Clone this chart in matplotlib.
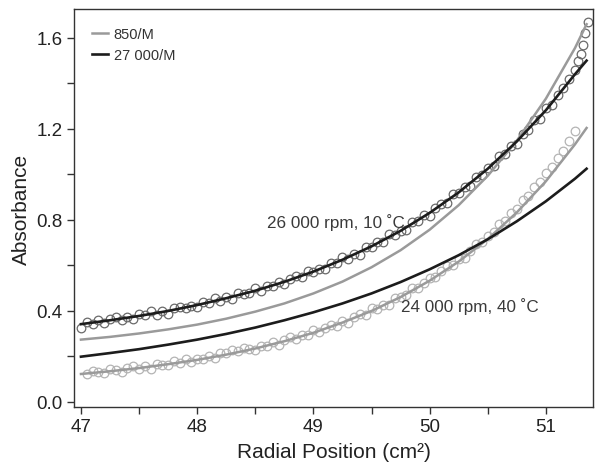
import matplotlib
matplotlib.use("Agg")
import matplotlib.pyplot as plt
from matplotlib.ticker import MultipleLocator

plt.rcParams['font.family'] = ['Liberation Sans', 'DejaVu Sans']

# radial position grid for the fitted curves
fit_x = [47.0, 47.25, 47.5, 47.75, 48.0, 48.25, 48.5, 48.75, 49.0, 49.25,
         49.5, 49.75, 50.0, 50.25, 50.5, 50.75, 51.0, 51.25, 51.35]

# 26 000 rpm, 10 C fits
hi_fit_850 = [0.274, 0.286, 0.301, 0.319, 0.340, 0.366, 0.397, 0.433, 0.477, 0.529,
              0.592, 0.667, 0.757, 0.865, 0.994, 1.148, 1.333, 1.555, 1.660]
hi_fit_27k = [0.342, 0.359, 0.378, 0.400, 0.426, 0.456, 0.489, 0.528, 0.573, 0.625,
              0.684, 0.752, 0.831, 0.921, 1.025, 1.145, 1.282, 1.440, 1.500]

# 24 000 rpm, 40 C fits
lo_fit_850 = [0.123, 0.135, 0.149, 0.166, 0.185, 0.208, 0.235, 0.267, 0.304, 0.349,
              0.400, 0.461, 0.533, 0.617, 0.716, 0.833, 0.970, 1.132, 1.204]
lo_fit_27k = [0.199, 0.215, 0.232, 0.252, 0.274, 0.299, 0.327, 0.359, 0.394, 0.433,
              0.477, 0.527, 0.583, 0.645, 0.715, 0.794, 0.882, 0.981, 1.025]

# measured absorbance, 26 000 rpm, 10 C
hi_x = [47.00, 47.05, 47.10, 47.15, 47.20, 47.25, 47.30, 47.35, 47.40, 47.45,
        47.50, 47.55, 47.60, 47.65, 47.70, 47.75, 47.80, 47.85, 47.90, 47.95,
        48.00, 48.05, 48.10, 48.15, 48.20, 48.25, 48.30, 48.35, 48.40, 48.45,
        48.50, 48.55, 48.60, 48.65, 48.70, 48.75, 48.80, 48.85, 48.90, 48.95,
        49.00, 49.05, 49.10, 49.15, 49.20, 49.25, 49.30, 49.35, 49.40, 49.45,
        49.50, 49.55, 49.60, 49.65, 49.70, 49.75, 49.80, 49.85, 49.90, 49.95,
        50.00, 50.05, 50.10, 50.15, 50.20, 50.25, 50.30, 50.35, 50.40, 50.45,
        50.50, 50.55, 50.60, 50.65, 50.70, 50.75, 50.80, 50.85, 50.90, 50.95,
        51.00, 51.05, 51.10, 51.15, 51.20, 51.25, 51.28, 51.30, 51.32, 51.34,
        51.36]
hi_y = [0.324, 0.351, 0.344, 0.362, 0.347, 0.363, 0.374, 0.360, 0.372, 0.364,
        0.386, 0.380, 0.398, 0.384, 0.399, 0.388, 0.411, 0.419, 0.411, 0.422,
        0.417, 0.439, 0.434, 0.455, 0.443, 0.460, 0.451, 0.477, 0.475, 0.477,
        0.499, 0.489, 0.509, 0.510, 0.529, 0.518, 0.540, 0.553, 0.548, 0.575,
        0.569, 0.585, 0.584, 0.609, 0.611, 0.635, 0.629, 0.651, 0.648, 0.680,
        0.682, 0.702, 0.702, 0.736, 0.733, 0.753, 0.757, 0.789, 0.794, 0.823,
        0.819, 0.851, 0.872, 0.876, 0.912, 0.918, 0.946, 0.950, 0.990, 0.997,
        1.029, 1.039, 1.082, 1.090, 1.126, 1.135, 1.177, 1.193, 1.237, 1.245,
        1.291, 1.307, 1.349, 1.378, 1.420, 1.460, 1.500, 1.530, 1.570, 1.620,
        1.670]

# measured absorbance, 24 000 rpm, 40 C
lo_x = [47.05, 47.10, 47.15, 47.20, 47.25, 47.30, 47.35, 47.40, 47.45,
        47.50, 47.55, 47.60, 47.65, 47.70, 47.75, 47.80, 47.85, 47.90, 47.95,
        48.00, 48.05, 48.10, 48.15, 48.20, 48.25, 48.30, 48.35, 48.40, 48.45,
        48.50, 48.55, 48.60, 48.65, 48.70, 48.75, 48.80, 48.85, 48.90, 48.95,
        49.00, 49.05, 49.10, 49.15, 49.20, 49.25, 49.30, 49.35, 49.40, 49.45,
        49.50, 49.55, 49.60, 49.65, 49.70, 49.75, 49.80, 49.85, 49.90, 49.95,
        50.00, 50.05, 50.10, 50.15, 50.20, 50.25, 50.30, 50.35, 50.40, 50.45,
        50.50, 50.55, 50.60, 50.65, 50.70, 50.75, 50.80, 50.85, 50.90, 50.95,
        51.00, 51.05, 51.10, 51.15, 51.20, 51.25]
lo_y = [0.121, 0.136, 0.133, 0.126, 0.145, 0.140, 0.132, 0.149, 0.157,
        0.146, 0.156, 0.146, 0.166, 0.163, 0.161, 0.178, 0.171, 0.189, 0.174,
        0.190, 0.190, 0.204, 0.195, 0.217, 0.216, 0.229, 0.225, 0.236, 0.231,
        0.229, 0.246, 0.244, 0.262, 0.252, 0.271, 0.284, 0.276, 0.296, 0.295,
        0.315, 0.306, 0.324, 0.339, 0.335, 0.355, 0.348, 0.372, 0.387, 0.383,
        0.412, 0.409, 0.428, 0.427, 0.455, 0.463, 0.468, 0.499, 0.499, 0.524,
        0.546, 0.547, 0.574, 0.597, 0.603, 0.629, 0.633, 0.665, 0.693, 0.701,
        0.730, 0.746, 0.781, 0.796, 0.832, 0.849, 0.887, 0.905, 0.943, 0.967,
        1.006, 1.031, 1.074, 1.104, 1.146, 1.190]

grey = '#9a9a9a'
black = '#1c1c1c'

fig = plt.figure(figsize=(6.02, 4.77), dpi=100)
ax = fig.add_axes([0.1229, 0.1447, 0.8621, 0.8344])

ax.plot(hi_x, hi_y, 'o', mfc='none', mec='#6a6a6a', ms=6.2, mew=0.9)
ax.plot(lo_x, lo_y, 'o', mfc='none', mec='#b4b4b4', ms=6.2, mew=0.9)

l850, = ax.plot(fit_x, hi_fit_850, color=grey, lw=1.8, label='850/M')
l27k, = ax.plot(fit_x, hi_fit_27k, color=black, lw=1.9, label='27 000/M')
ax.plot(fit_x, lo_fit_850, color=grey, lw=1.8)
ax.plot(fit_x, lo_fit_27k, color=black, lw=1.9)

ax.text(48.60, 0.795, '26 000 rpm, 10 \u02daC', fontsize=12.3, color='#3a3a3a', va='center')
ax.text(49.75, 0.426, '24 000 rpm, 40 \u02daC', fontsize=12.3, color='#3a3a3a', va='center')

ax.legend(handles=[l850, l27k], loc='upper left', frameon=False, fontsize=10.5,
          handlelength=1.1, handletextpad=0.4, labelspacing=0.5,
          bbox_to_anchor=(0.0, 1.0), borderaxespad=0.83, labelcolor='#333333')

ax.set_xlim(46.94, 51.405)
ax.set_ylim(-0.022, 1.727)
ax.xaxis.set_major_locator(MultipleLocator(1))
ax.xaxis.set_minor_locator(MultipleLocator(0.5))
ax.yaxis.set_major_locator(MultipleLocator(0.4))
ax.yaxis.set_minor_locator(MultipleLocator(0.2))
ax.yaxis.set_major_formatter(plt.FormatStrFormatter('%.1f'))
ax.tick_params(which='both', direction='out', length=5, width=1, colors='#333333',
               labelsize=13.5, pad=3, labelcolor='#222222')

for s in ax.spines.values():
    s.set_color('#333333')
    s.set_linewidth(1)

ax.set_xlabel('Radial Position (cm\u00b2)', fontsize=15, color='#222222', labelpad=5)
ax.set_ylabel('Absorbance', fontsize=15, color='#222222', labelpad=4)

fig.savefig('out.png', dpi=100)
